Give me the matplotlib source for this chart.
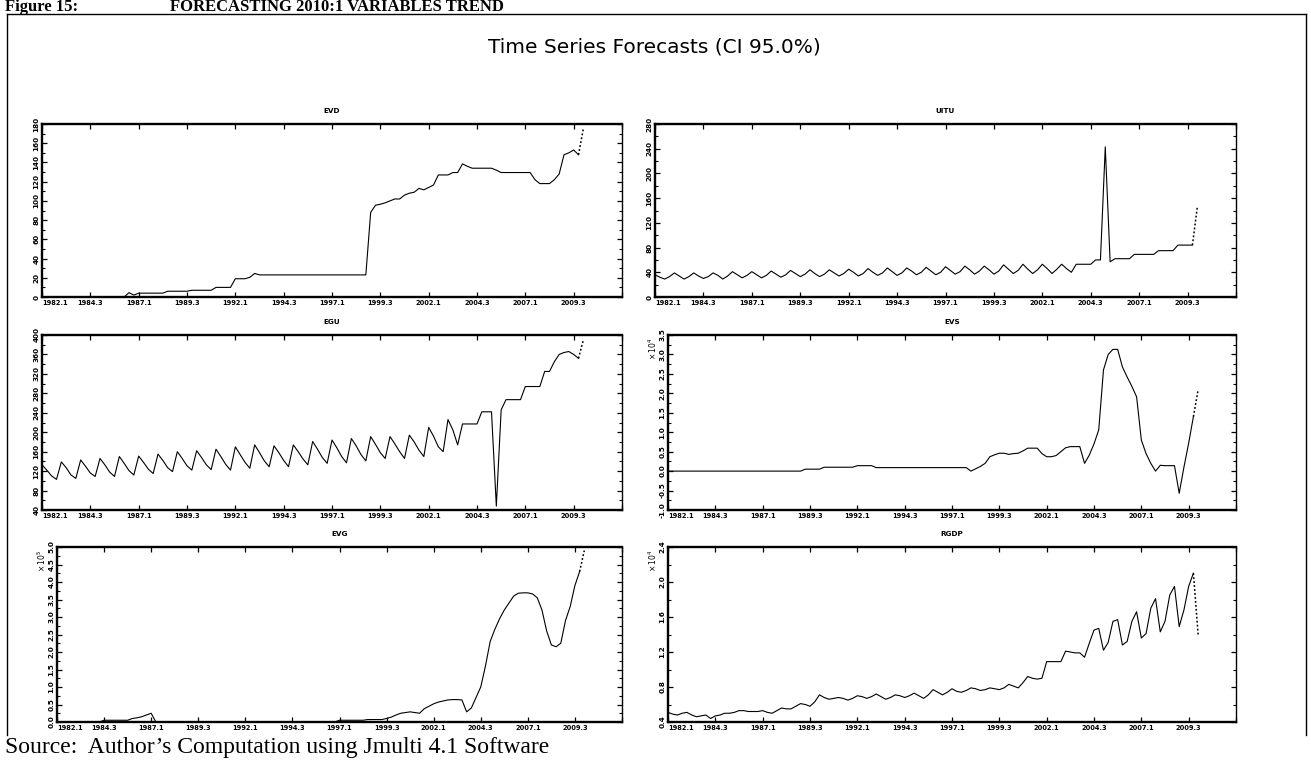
import matplotlib
matplotlib.use("Agg")
import matplotlib.pyplot as plt
from matplotlib.lines import Line2D
from matplotlib.ticker import MultipleLocator
import numpy as np

# quarterly observations 1982.1 - 2009.4, one row per year
evd = [
    0, 0, 0, 0,
    0, 0, 0, 0,
    0, 0, 0, 0,
    0, 0, 0, 0,
    0, 0, 4.5, 2,
    4, 4, 4, 4,
    4, 4, 6, 6,
    6, 6, 6, 7,
    7, 7, 7, 7,
    10, 10, 10, 10,
    19, 19, 19, 20.5,
    24.5, 23, 23, 23,
    23, 23, 23, 23,
    23, 23, 23, 23,
    23, 23, 23, 23,
    23, 23, 23, 23,
    23, 23, 23, 23,
    88, 95.5, 96.5, 98,
    100, 102, 102, 106,
    108, 109, 113, 111.5,
    114, 116.5, 127, 127,
    127, 129.5, 129.5, 138.5,
    136, 134, 134, 134,
    134, 134, 132, 129.5,
    129.5, 129.5, 129.5, 129.5,
    129.5, 129.5, 122, 118,
    118, 118, 122, 128,
    148, 150, 153, 148,
]
evd_fc = [175]

uitu = [
    36, 32, 29, 33,
    39, 34, 29, 33,
    39, 34, 30, 33,
    39, 35, 29, 34,
    41, 36, 31, 35,
    41, 36, 31, 35,
    42, 37, 32, 36,
    43, 38, 33, 37,
    44, 38, 33, 37,
    44, 39, 34, 38,
    45, 40, 34, 38,
    46, 40, 35, 39,
    47, 41, 35, 39,
    47, 42, 36, 40,
    48, 42, 36, 40,
    49, 43, 37, 41,
    50, 44, 37, 42,
    50, 44, 37, 42,
    52, 45, 38, 43,
    53, 45, 38, 44,
    53, 46, 38, 45,
    53, 46, 40, 53,
    53, 53, 53, 60,
    60, 243, 57, 62,
    62, 62, 62, 69,
    69, 69, 69, 69,
    75, 75, 75, 75,
    84, 84, 84, 84,
]
uitu_fc = [145]

egu = [
    133, 122, 110, 103,
    139, 127, 112, 105,
    143, 130, 116, 109,
    146, 133, 118, 109,
    150, 136, 121, 112,
    151, 138, 124, 115,
    155, 142, 127, 119,
    160, 146, 131, 122,
    162, 148, 133, 123,
    165, 150, 134, 122,
    170, 154, 138, 126,
    174, 158, 141, 129,
    172, 158, 142, 129,
    174, 160, 145, 133,
    181, 165, 148, 136,
    184, 168, 150, 137,
    187, 172, 154, 141,
    191, 175, 158, 146,
    191, 176, 160, 146,
    194, 180, 163, 150,
    210, 192, 170, 160,
    226, 205, 174, 217,
    217, 217, 217, 242,
    242, 242, 48, 246,
    267, 267, 267, 267,
    294, 294, 294, 294,
    325, 325, 345, 360,
    364, 366, 360, 352,
]
egu_fc = [390]

evs = [
    0, 0, 0, 0,
    0, 0, 0, 0,
    0, 0, 0, 0,
    0, 0, 0, 0,
    0, 0, 0, 0,
    0, 0, 0, 0,
    0, 0, 0, 0,
    0, 0.05, 0.05, 0.05,
    0.05, 0.10, 0.10, 0.10,
    0.10, 0.10, 0.10, 0.10,
    0.14, 0.14, 0.14, 0.14,
    0.09, 0.09, 0.09, 0.09,
    0.09, 0.09, 0.09, 0.09,
    0.09, 0.09, 0.09, 0.09,
    0.09, 0.09, 0.09, 0.09,
    0.09, 0.09, 0.09, 0.09,
    0.0, 0.06, 0.12, 0.20,
    0.37, 0.42, 0.46, 0.46,
    0.43, 0.45, 0.46, 0.52,
    0.59, 0.59, 0.59, 0.45,
    0.37, 0.37, 0.40, 0.50,
    0.60, 0.63, 0.63, 0.63,
    0.20, 0.41, 0.70, 1.06,
    2.60, 3.00, 3.13, 3.13,
    2.68, 2.42, 2.18, 1.91,
    0.80, 0.45, 0.20, 0.0,
    0.15, 0.14, 0.14, 0.14,
    -0.57, 0.10, 0.72, 1.40,
]
evs_fc = [2.09]

evg = [
    0, 0, 0, 0,
    0, 0, 0, 0,
    0, 0, 0.05, 0.05,
    0.05, 0.05, 0.05, 0.05,
    0.10, 0.12, 0.15, 0.20,
    0.25, 0, 0, 0,
    0, 0, 0, 0,
    0, 0, 0, 0,
    0, 0, 0, 0,
    0, 0, 0, 0,
    0, 0, 0, 0,
    0, 0, 0, 0,
    0, 0, 0, 0,
    0, 0, 0, 0,
    0, 0, 0, 0,
    0.05, 0.05, 0.05, 0.05,
    0.05, 0.05, 0.07, 0.07,
    0.07, 0.07, 0.10, 0.14,
    0.20, 0.25, 0.27, 0.29,
    0.27, 0.25, 0.38, 0.45,
    0.52, 0.57, 0.60, 0.63,
    0.64, 0.64, 0.63, 0.29,
    0.40, 0.70, 1.00, 1.60,
    2.30, 2.65, 2.95, 3.20,
    3.40, 3.60, 3.68, 3.69,
    3.69, 3.66, 3.55, 3.20,
    2.60, 2.20, 2.15, 2.25,
    2.90, 3.30, 3.90, 4.30,
]
evg_fc = [4.90]

rgdp = [
    0.51, 0.49, 0.48, 0.50,
    0.51, 0.48, 0.46, 0.47,
    0.48, 0.44, 0.47, 0.48,
    0.50, 0.50, 0.51, 0.53,
    0.53, 0.52, 0.52, 0.52,
    0.53, 0.51, 0.50, 0.53,
    0.56, 0.55, 0.55, 0.58,
    0.61, 0.60, 0.58, 0.63,
    0.71, 0.68, 0.66, 0.67,
    0.68, 0.67, 0.65, 0.67,
    0.70, 0.69, 0.67, 0.69,
    0.72, 0.69, 0.66, 0.68,
    0.71, 0.70, 0.68, 0.70,
    0.73, 0.70, 0.67, 0.71,
    0.77, 0.74, 0.71, 0.74,
    0.78, 0.75, 0.74, 0.76,
    0.79, 0.78, 0.76, 0.77,
    0.79, 0.78, 0.77, 0.79,
    0.83, 0.81, 0.79, 0.85,
    0.92, 0.90, 0.89, 0.90,
    1.09, 1.09, 1.09, 1.09,
    1.21, 1.20, 1.19, 1.19,
    1.14, 1.30, 1.45, 1.47,
    1.22, 1.31, 1.55, 1.57,
    1.28, 1.32, 1.55, 1.66,
    1.36, 1.41, 1.70, 1.81,
    1.43, 1.55, 1.85, 1.95,
    1.49, 1.68, 1.95, 2.10,
]
rgdp_fc = [1.40]

date_labels = ["1982.1", "1984.3", "1987.1", "1989.3", "1992.1", "1994.3",
               "1997.1", "1999.3", "2002.1", "2004.3", "2007.1", "2009.3"]

W, H = 1311, 762


def quarter_index(label):
    year, q = label.split(".")
    return (int(year) - 1982) * 4 + int(q) - 1


def px_rect(x0, y0, x1, y1):
    return [x0 / W, 1 - y1 / H, (x1 - x0) / W, (y1 - y0) / H]


def draw_panel(fig, rect, title, values, forecast, ylo, yhi, ystep, fmt, power):
    ax = fig.add_axes(px_rect(*rect))
    t = np.arange(len(values))
    ax.plot(t, values, color="black", lw=0.8)
    tf = np.arange(len(values) - 1, len(values) + len(forecast))
    ax.plot(tf, [values[-1]] + forecast, color="black", lw=1.1, ls=(0, (1.2, 1.4)))

    ax.set_xlim(0, 120)
    ax.set_ylim(ylo, yhi)

    xt = [quarter_index(s) for s in date_labels] + [120]
    ax.set_xticks(xt)
    ax.set_xticklabels(date_labels + [""], fontsize=4.8, fontweight="bold")
    ax.get_xticklabels()[0].set_horizontalalignment("left")

    yt = np.arange(ylo, yhi + ystep / 2, ystep)
    ax.set_yticks(yt)
    ax.set_yticklabels([fmt % round(v, 2) for v in yt], rotation=90,
                       va="center", fontsize=5.2, fontweight="bold")
    ax.yaxis.set_minor_locator(MultipleLocator(ystep / 2))

    ax.tick_params(axis="both", which="major", direction="in", length=3.5,
                   width=0.9, top=True, right=True, pad=2)
    ax.tick_params(axis="y", which="minor", direction="in", length=2,
                   width=0.8, right=True)

    for s in ax.spines.values():
        s.set_linewidth(1.7)
    ax.spines["right"].set_linewidth(1.0)

    ax.set_title(title, fontsize=5.2, fontweight="bold", pad=8)
    if power is not None:
        ax.annotate(r"$\times\,10^{%d}$" % power, xy=(0, 1), xycoords="axes fraction",
                    xytext=(-11, -2), textcoords="offset points", rotation=90,
                    ha="center", va="top", fontsize=5.5, fontweight="bold")
    return ax


fig = plt.figure(figsize=(W / 100, H / 100), dpi=100)

# document header and frame
fig.text(5 / W, 1 - 11 / H, "Figure 15:", family="Liberation Serif",
         fontweight="bold", fontsize=12, va="baseline")
fig.text(170 / W, 1 - 11 / H, "FORECASTING 2010:1 VARIABLES TREND",
         family="Liberation Serif", fontweight="bold", fontsize=12, va="baseline")

frame = [((7, 7), (14, 735)), ((7, 1306), (14, 14)), ((1306, 1306), (14, 735))]
for xs, ys in frame:
    fig.add_artist(Line2D([x / W for x in xs], [1 - y / H for y in ys],
                          transform=fig.transFigure, color="black", lw=1.0))

fig.text(654 / W, 1 - 47 / H, "Time Series Forecasts (CI 95.0%)",
         fontsize=14.5, ha="center", va="center")

panels = [
    ("EVD", evd, evd_fc, 0, 180, 20, "%d", None, (42, 124, 622, 297)),
    ("UITU", uitu, uitu_fc, 0, 280, 40, "%d", None, (655, 124, 1236, 297)),
    ("EGU", egu, egu_fc, 40, 400, 40, "%d", None, (42, 335, 622, 510)),
    ("EVS", evs, evs_fc, -1.0, 3.5, 0.5, "%.1f", 4, (668, 335, 1236, 510)),
    ("EVG", evg, evg_fc, 0, 5.0, 0.5, "%.1f", 5, (57, 547, 622, 722)),
    ("RGDP", rgdp, rgdp_fc, 0.4, 2.4, 0.4, "%.1f", 4, (668, 547, 1236, 722)),
]
for name, vals, fc, lo, hi, step, fmt, power, rect in panels:
    draw_panel(fig, rect, name, vals, fc, lo, hi, step, fmt, power)

fig.text(5 / W, 1 - 747 / H, "Source:  Author\u2019s Computation using Jmulti 4.1 Software",
         family="Liberation Serif", fontsize=17, va="center")

fig.savefig("out.png", dpi=100)
